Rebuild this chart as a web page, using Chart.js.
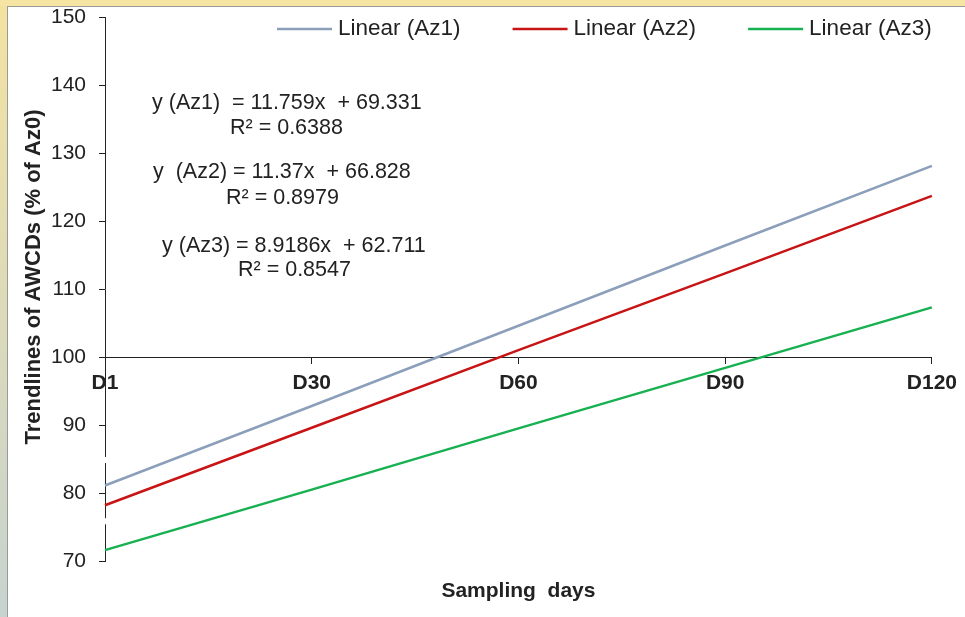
<!DOCTYPE html>
<html>
<head>
<meta charset="utf-8">
<script src="https://cdn.jsdelivr.net/npm/chart.js@4.4.1/dist/chart.umd.min.js"></script>
<style>
    html, body { margin: 0; padding: 0; }
    body { position: relative; width: 965px; height: 617px; overflow: hidden; background: #f5e4a2; }
    #strip { position: absolute; left: 0; top: 6px; width: 7px; height: 611px;
             background: linear-gradient(#f3e3a1, #dcdab9 50%, #c6d3cf); }
    #frame { position: absolute; left: 7px; top: 6px; width: 957px; height: 610px;
             border-left: 1px solid #9a9a9a; border-top: 1px solid #9a9a9a; background: #fff; }
    #myChart { position: absolute; left: 0; top: 0; }
</style>
</head>
<body>
<div id="strip"></div>
<div id="frame"><canvas id="myChart" width="957" height="610"></canvas></div>
<script>
    'use strict';
    var days = ['D1', 'D30', 'D60', 'D90', 'D120'];
    var az1 = [81.1, 92.8, 104.6, 116.4, 128.1];
    var az2 = [78.2, 89.6, 101.0, 112.3, 123.7];
    var az3 = [71.6, 80.5, 89.5, 98.4, 107.3];
    var yTicks = { min: 70, max: 150, step: 10 };
    var equations = ['y (Az1)  = 11.759x  + 69.331', 'y  (Az2) = 11.37x  + 66.828', 'y (Az3) = 8.9186x  + 62.711'];
    var rSquared = ['R\u00b2 = 0.6388', 'R\u00b2 = 0.8979', 'R\u00b2 = 0.8547'];

    var FONT = '"Liberation Sans", Arial, sans-serif';
    var INK = '#222';

    // little white gaps in the y axis line, as in the original figure (in axis units)
    var axisBreaks = [[84.4, 85.3], [75.4, 76.3]];

    // text positions, relative to the chart area
    var eqPos = [[47, 86], [48, 155], [57, 229]];
    var rPos = [[125, 111], [121, 181], [133, 253]];

    var overlay = {
        id: 'overlay',
        afterDraw: function (chart) {
            var ctx = chart.ctx;
            var area = chart.chartArea;
            var yScale = chart.scales.y;
            ctx.save();

            ctx.fillStyle = '#fff';
            axisBreaks.forEach(function (b) {
                var top = yScale.getPixelForValue(b[1]);
                var bottom = yScale.getPixelForValue(b[0]);
                ctx.fillRect(area.left - 2, top, 4, bottom - top);
            });

            // legend
            ctx.font = '22.5px ' + FONT;
            ctx.textBaseline = 'middle';
            ctx.textAlign = 'left';
            var x = area.left + 172;
            var y = area.top + 12;
            chart.data.datasets.forEach(function (ds) {
                ctx.strokeStyle = ds.borderColor;
                ctx.lineWidth = 2.5;
                ctx.beginPath();
                ctx.moveTo(x, y);
                ctx.lineTo(x + 55, y);
                ctx.stroke();
                ctx.fillStyle = INK;
                ctx.fillText(ds.label, x + 61, y);
                x += 61 + ctx.measureText(ds.label).width + 52;
            });

            // trendline equations
            ctx.font = '21.5px ' + FONT;
            for (var i = 0; i < equations.length; i++) {
                ctx.fillText(equations[i], area.left + eqPos[i][0], area.top + eqPos[i][1]);
                ctx.fillText(rSquared[i], area.left + rPos[i][0], area.top + rPos[i][1]);
            }

            // axis titles
            ctx.font = 'bold 21px ' + FONT;
            ctx.textAlign = 'center';
            ctx.fillText('Sampling  days', (area.left + area.right) / 2, area.bottom + 30);

            ctx.font = 'bold 22px ' + FONT;
            ctx.translate(26, 270);
            ctx.rotate(-Math.PI / 2);
            ctx.fillText('Trendlines of AWCDs (% of Az0)', 0, 0);
            ctx.restore();
        }
    };

    var ctx = document.getElementById('myChart').getContext('2d');
    var chart = new Chart(ctx, {
        type: 'line',
        data: {
            labels: days,
            datasets: [
                { label: 'Linear (Az1)', data: az1, borderColor: '#8c9fba', backgroundColor: '#8c9fba' },
                { label: 'Linear (Az2)', data: az2, borderColor: '#c81414', backgroundColor: '#c81414' },
                { label: 'Linear (Az3)', data: az3, borderColor: '#17b152', backgroundColor: '#17b152' }
            ]
        },
        options: {
            responsive: false,
            animation: false,
            devicePixelRatio: 1,
            layout: { padding: { left: 0, top: 10, right: 32, bottom: 56 } },
            elements: {
                line: { borderWidth: 2.5, tension: 0 },
                point: { radius: 0, hoverRadius: 0 }
            },
            plugins: {
                legend: { display: false },
                tooltip: { enabled: false }
            },
            scales: {
                x: {
                    type: 'category',
                    position: { y: 100 },
                    offset: false,
                    grid: { drawOnChartArea: false, tickLength: 6, color: INK },
                    border: { color: INK, width: 1 },
                    ticks: {
                        autoSkip: false, maxRotation: 0, padding: 8, color: INK,
                        font: { family: FONT, size: 21, weight: 'bold' }
                    }
                },
                y: {
                    min: yTicks.min,
                    max: yTicks.max,
                    grid: { drawOnChartArea: false, tickLength: 6, color: INK },
                    border: { color: INK, width: 1 },
                    ticks: {
                        stepSize: yTicks.step, padding: 13, color: INK,
                        font: { family: FONT, size: 21 }
                    },
                    afterFit: function (scale) {
                        scale.width = 97;
                        scale.paddingTop = 0;
                        scale.paddingBottom = 0;
                    }
                }
            }
        },
        plugins: [overlay]
    });
</script>
</body>
</html>
